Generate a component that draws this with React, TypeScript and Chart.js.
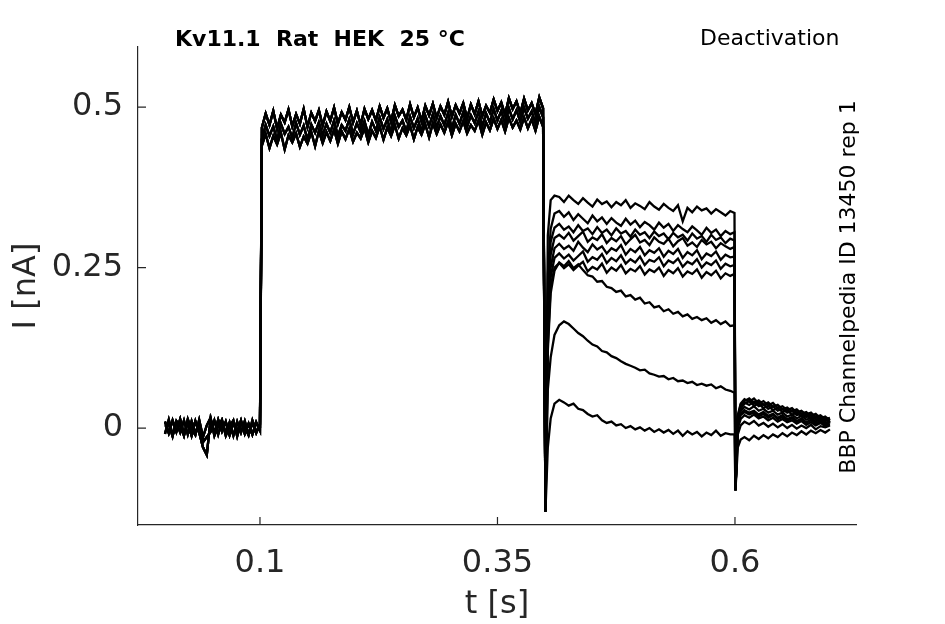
import React, { useEffect, useRef } from 'react';
import { Chart, registerables } from 'chart.js';

Chart.register(...registerables);

// axis ticks
const xTicks = [0.1, 0.35, 0.6];
const yTicks = [0, 0.25, 0.5];

// sample times (s) of each protocol segment
const baseTimes = [0, 0.004, 0.008, 0.012, 0.016, 0.02, 0.024, 0.028, 0.032, 0.036, 0.04, 0.044, 0.048,
   0.052, 0.056, 0.06, 0.064, 0.068, 0.072, 0.076, 0.08, 0.084, 0.088, 0.092, 0.096, 0.1];
const pulseTimes = [
   0.102, 0.106, 0.11, 0.114, 0.118, 0.122, 0.126, 0.13, 0.134, 0.138, 0.142, 0.146, 0.15, 0.154, 0.158,
   0.162, 0.166, 0.17, 0.174, 0.178, 0.182, 0.186, 0.19, 0.194, 0.198, 0.202, 0.206, 0.21, 0.214, 0.218,
   0.222, 0.226, 0.23, 0.234, 0.238, 0.242, 0.246, 0.25, 0.254, 0.258, 0.262, 0.266, 0.27, 0.274, 0.278,
   0.282, 0.286, 0.29, 0.294, 0.298, 0.302, 0.306, 0.31, 0.314, 0.318, 0.322, 0.326, 0.33, 0.334, 0.338,
   0.342, 0.346, 0.35, 0.354, 0.358, 0.362, 0.366, 0.37, 0.374, 0.378, 0.382, 0.386, 0.39, 0.394, 0.398,
];
const tailTimes = [0.4005, 0.403, 0.406, 0.41,
   0.415, 0.42, 0.425, 0.43, 0.435, 0.44, 0.445, 0.45, 0.455, 0.46, 0.465, 0.47, 0.475, 0.48, 0.485,
   0.49, 0.495, 0.5, 0.505, 0.51, 0.515, 0.52, 0.525, 0.53, 0.535, 0.54, 0.545, 0.55, 0.555, 0.56,
   0.565, 0.57, 0.575, 0.58, 0.585, 0.59, 0.595, 0.5995];
const postTimes = [0.6005, 0.603, 0.606,
   0.61, 0.615, 0.62, 0.625, 0.63, 0.635, 0.64, 0.645, 0.65, 0.655, 0.66, 0.665, 0.67, 0.675, 0.68,
   0.685, 0.69, 0.695, 0.7];

// current (nA) before the step
const baseline1 = [0.01, -0.008, 0.012, -0.006, 0.014, -0.01, 0.008, -0.012, 0.011, -0.007, -0.03, -0.042, 0.014,
   -0.008, 0.013, -0.005, 0.01, -0.011, 0.008, -0.006, 0.012, -0.009, 0.007, -0.01, 0.009, -0.004];
const baseline2 = [-0.009, 0.013, -0.011, 0.009, -0.007, 0.012, -0.01, 0.011, -0.008, 0.006, -0.022, -0.014, -0.006,
   0.012, -0.01, 0.011, -0.008, 0.009, -0.012, 0.01, -0.007, 0.011, -0.01, 0.008, -0.008, 0.006];
const baseline3 = [0.002, 0.006, -0.013, 0.011, 0.003, -0.012, 0.014, -0.002, -0.011, 0.013, -0.014, 0.004, 0.016,
   -0.012, 0.003, 0.013, -0.012, 0.002, 0.012, -0.013, 0.008, 0.001, -0.011, 0.012, -0.005, 0.001];

// current (nA) during the activating pulse
const pulse1 = [
   0.468, 0.49, 0.472, 0.494, 0.466, 0.488, 0.476, 0.496, 0.47, 0.489, 0.474, 0.497, 0.469, 0.491, 0.478,
   0.495, 0.471, 0.493, 0.478, 0.499, 0.474, 0.492, 0.48, 0.5, 0.476, 0.494, 0.472, 0.497, 0.481, 0.495,
   0.479, 0.501, 0.483, 0.498, 0.477, 0.503, 0.486, 0.496, 0.48, 0.504, 0.484, 0.499, 0.478, 0.502, 0.487,
   0.505, 0.483, 0.501, 0.488, 0.508, 0.485, 0.503, 0.49, 0.506, 0.482, 0.504, 0.489, 0.509, 0.486, 0.502,
   0.491, 0.512, 0.494, 0.507, 0.488, 0.514, 0.497, 0.509, 0.49, 0.513, 0.495, 0.506, 0.489, 0.515, 0.498,
];
const pulse2 = [
   0.45, 0.472, 0.455, 0.47, 0.448, 0.474, 0.458, 0.469, 0.452, 0.475, 0.457, 0.471, 0.449, 0.473, 0.46,
   0.476, 0.456, 0.474, 0.46, 0.479, 0.455, 0.472, 0.463, 0.481, 0.458, 0.475, 0.461, 0.478, 0.457, 0.477,
   0.463, 0.484, 0.466, 0.481, 0.46, 0.486, 0.469, 0.479, 0.462, 0.485, 0.467, 0.482, 0.461, 0.487, 0.47,
   0.489, 0.468, 0.486, 0.472, 0.491, 0.466, 0.488, 0.474, 0.492, 0.469, 0.487, 0.475, 0.493, 0.47, 0.49,
   0.476, 0.497, 0.479, 0.494, 0.474, 0.498, 0.481, 0.495, 0.477, 0.499, 0.482, 0.493, 0.475, 0.5, 0.484,
];
const pulse3 = [
   0.44, 0.458, 0.436, 0.455, 0.442, 0.46, 0.434, 0.456, 0.445, 0.459, 0.438, 0.454, 0.443, 0.461, 0.439,
   0.463, 0.444, 0.461, 0.447, 0.465, 0.443, 0.462, 0.45, 0.466, 0.446, 0.46, 0.451, 0.467, 0.445, 0.463,
   0.452, 0.47, 0.449, 0.468, 0.455, 0.472, 0.451, 0.467, 0.456, 0.471, 0.45, 0.469, 0.457, 0.473, 0.453,
   0.475, 0.458, 0.473, 0.46, 0.477, 0.456, 0.474, 0.462, 0.478, 0.459, 0.472, 0.463, 0.479, 0.457, 0.476,
   0.464, 0.482, 0.466, 0.48, 0.462, 0.483, 0.468, 0.479, 0.465, 0.484, 0.467, 0.481, 0.463, 0.485, 0.469,
];

// tail current (nA) at each test voltage
const tailA = [-0.13, 0.3, 0.355, 0.362,
   0.36, 0.352, 0.362, 0.355, 0.349, 0.358, 0.351, 0.345, 0.356, 0.349, 0.353, 0.344, 0.352, 0.347, 0.355,
   0.343, 0.35, 0.346, 0.341, 0.352, 0.345, 0.34, 0.349, 0.343, 0.338, 0.347, 0.322, 0.343, 0.336, 0.345,
   0.339, 0.342, 0.334, 0.341, 0.336, 0.331, 0.338, 0.335];
const tailB = [-0.13, 0.24, 0.31, 0.334,
   0.338, 0.329, 0.336, 0.324, 0.333, 0.326, 0.319, 0.331, 0.322, 0.328, 0.318, 0.327, 0.32, 0.315, 0.326,
   0.317, 0.323, 0.313, 0.321, 0.316, 0.309, 0.32, 0.312, 0.318, 0.307, 0.316, 0.31, 0.305, 0.314, 0.308,
   0.301, 0.312, 0.304, 0.309, 0.299, 0.307, 0.302, 0.305];
const tailC = [-0.13, 0.21, 0.29, 0.312,
   0.318, 0.309, 0.314, 0.305, 0.316, 0.307, 0.311, 0.302, 0.313, 0.304, 0.309, 0.3, 0.311, 0.303, 0.307,
   0.298, 0.309, 0.301, 0.305, 0.296, 0.306, 0.299, 0.303, 0.294, 0.304, 0.297, 0.301, 0.292, 0.303, 0.295,
   0.299, 0.29, 0.301, 0.293, 0.297, 0.288, 0.295, 0.292];
const tailD = [-0.13, 0.19, 0.27, 0.296,
   0.301, 0.295, 0.304, 0.292, 0.299, 0.306, 0.29, 0.297, 0.293, 0.302, 0.288, 0.296, 0.291, 0.299, 0.286,
   0.294, 0.301, 0.289, 0.293, 0.285, 0.297, 0.29, 0.287, 0.295, 0.283, 0.291, 0.296, 0.284, 0.289, 0.282,
   0.293, 0.286, 0.29, 0.28, 0.288, 0.283, 0.279, 0.282];
const tailE = [-0.13, 0.17, 0.25, 0.28,
   0.287, 0.279, 0.284, 0.276, 0.29, 0.281, 0.274, 0.286, 0.278, 0.283, 0.272, 0.28, 0.276, 0.285, 0.27,
   0.279, 0.274, 0.282, 0.269, 0.277, 0.273, 0.28, 0.267, 0.276, 0.271, 0.279, 0.265, 0.274, 0.269, 0.277,
   0.263, 0.272, 0.268, 0.275, 0.262, 0.27, 0.266, 0.267];
const tailF = [-0.13, 0.15, 0.235, 0.265,
   0.272, 0.264, 0.27, 0.261, 0.268, 0.275, 0.259, 0.266, 0.262, 0.271, 0.257, 0.265, 0.26, 0.269, 0.256,
   0.263, 0.258, 0.267, 0.254, 0.262, 0.259, 0.266, 0.252, 0.261, 0.257, 0.264, 0.251, 0.259, 0.255, 0.263,
   0.25, 0.258, 0.254, 0.261, 0.248, 0.256, 0.252, 0.254];
const tailG = [-0.13, 0.13, 0.22, 0.25,
   0.257, 0.249, 0.255, 0.246, 0.253, 0.259, 0.244, 0.251, 0.247, 0.256, 0.242, 0.25, 0.245, 0.254, 0.241,
   0.248, 0.244, 0.252, 0.239, 0.247, 0.243, 0.25, 0.237, 0.246, 0.241, 0.249, 0.236, 0.244, 0.24, 0.247,
   0.234, 0.243, 0.238, 0.245, 0.233, 0.241, 0.237, 0.24];
const tailH = [-0.13, 0.12, 0.21, 0.245,
   0.258, 0.252, 0.26, 0.249, 0.255, 0.246, 0.238, 0.236, 0.228, 0.229, 0.22, 0.218, 0.212, 0.214, 0.205,
   0.207, 0.2, 0.203, 0.194, 0.196, 0.188, 0.19, 0.182, 0.185, 0.178, 0.181, 0.174, 0.177, 0.17, 0.173,
   0.168, 0.171, 0.164, 0.168, 0.162, 0.166, 0.159, 0.16];
const tailI = [-0.13, 0.06, 0.11, 0.145,
   0.16, 0.166, 0.162, 0.155, 0.148, 0.143, 0.136, 0.13, 0.127, 0.12, 0.118, 0.112, 0.109, 0.104, 0.1,
   0.097, 0.094, 0.09, 0.091, 0.085, 0.083, 0.08, 0.081, 0.076, 0.078, 0.073, 0.074, 0.07, 0.072, 0.067,
   0.069, 0.066, 0.068, 0.062, 0.065, 0.06, 0.058, 0.055];
const tailJ = [-0.13, -0.03, 0.015, 0.038,
   0.044, 0.04, 0.035, 0.038, 0.03, 0.028, 0.022, 0.018, 0.02, 0.012, 0.008, 0.01, 0.004, 0.006, 0.0,
   0.003, -0.002, 0.001, -0.004, 0.0, -0.006, -0.002, -0.007, -0.003, -0.009, -0.004, -0.012, -0.005, -0.01, -0.006,
   -0.013, -0.007, -0.011, -0.004, -0.012, -0.008, -0.01, -0.01];

// current (nA) after return to holding
const postA = [-0.097, 0.02, 0.038, 0.045, 0.041, 0.046, 0.038, 0.042, 0.035, 0.039, 0.031, 0.034, 0.028, 0.031,
   0.024, 0.027, 0.021, 0.024, 0.017, 0.02, 0.014, 0.016];
const postB = [-0.097, 0.018, 0.036, 0.042, 0.046, 0.039, 0.043, 0.036, 0.04, 0.033, 0.036, 0.029, 0.032, 0.026,
   0.029, 0.022, 0.025, 0.019, 0.022, 0.015, 0.018, 0.012];
const postC = [-0.097, 0.015, 0.033, 0.04, 0.036, 0.041, 0.034, 0.037, 0.03, 0.034, 0.027, 0.03, 0.024, 0.027,
   0.02, 0.023, 0.017, 0.02, 0.013, 0.017, 0.011, 0.014];
const postD = [-0.097, 0.012, 0.03, 0.038, 0.042, 0.035, 0.038, 0.031, 0.035, 0.028, 0.031, 0.025, 0.028, 0.021,
   0.024, 0.018, 0.021, 0.014, 0.018, 0.011, 0.015, 0.009];
const postE = [-0.097, 0.01, 0.026, 0.033, 0.029, 0.034, 0.027, 0.03, 0.024, 0.027, 0.021, 0.024, 0.018, 0.021,
   0.015, 0.019, 0.013, 0.016, 0.01, 0.014, 0.008, 0.011];
const postF = [-0.097, 0.008, 0.022, 0.028, 0.024, 0.027, 0.021, 0.025, 0.019, 0.022, 0.016, 0.02, 0.014, 0.017,
   0.011, 0.015, 0.009, 0.013, 0.007, 0.011, 0.006, 0.01];
const postG = [-0.097, 0.006, 0.02, 0.025, 0.021, 0.024, 0.018, 0.022, 0.016, 0.02, 0.014, 0.017, 0.012, 0.015,
   0.01, 0.013, 0.008, 0.012, 0.007, 0.01, 0.005, 0.009];
const postH = [-0.097, 0.0, 0.014, 0.02, 0.016, 0.021, 0.015, 0.018, 0.012, 0.016, 0.01, 0.014, 0.009, 0.012,
   0.007, 0.011, 0.005, 0.009, 0.004, 0.008, 0.003, 0.006];
const postI = [-0.097, -0.01, 0.004, 0.01, 0.006, 0.011, 0.004, 0.008, 0.002, 0.007, 0.001, 0.006, 0.0, 0.005,
   -0.001, 0.004, 0.0, 0.005, -0.002, 0.003, 0.001, 0.004];
const postJ = [-0.097, -0.03, -0.018, -0.014, -0.019, -0.012, -0.017, -0.011, -0.016, -0.01, -0.014, -0.008, -0.013,
   -0.007, -0.011, -0.005, -0.01, -0.004, -0.008, -0.003, -0.007, -0.002];

const baselines = [baseline1, baseline2, baseline3];
const pulses = [pulse1, pulse2, pulse3];
const tails = [tailA, tailB, tailC, tailD, tailE, tailF, tailG, tailH, tailI, tailJ];
const posts = [postA, postB, postC, postD, postE, postF, postG, postH, postI, postJ];

const axisColor = '#262626';
const font = "'DejaVu Sans', sans-serif";

const toPoints = (times: number[], values: number[]) => times.map((t, i) => ({ x: t, y: values[i] }));

// labels and inward tick marks, MATLAB style
const decorPlugin = {
   id: 'decor',
   afterDraw(chart: any) {
      const { ctx, chartArea, scales } = chart;
      ctx.save();
      ctx.strokeStyle = axisColor;
      ctx.lineWidth = 1.2;
      ctx.beginPath();
      xTicks.forEach((v) => {
         const px = scales.x.getPixelForValue(v);
         ctx.moveTo(px, chartArea.bottom);
         ctx.lineTo(px, chartArea.bottom - 8);
      });
      yTicks.forEach((v) => {
         const py = scales.y.getPixelForValue(v);
         ctx.moveTo(chartArea.left, py);
         ctx.lineTo(chartArea.left + 8, py);
      });
      ctx.stroke();

      ctx.fillStyle = axisColor;
      ctx.font = `32px ${font}`;
      ctx.textAlign = 'center';
      ctx.textBaseline = 'middle';
      ctx.fillText('t [s]', (chartArea.left + chartArea.right) / 2, 605);
      ctx.save();
      ctx.translate(27, (chartArea.top + chartArea.bottom) / 2);
      ctx.rotate(-Math.PI / 2);
      ctx.fillText('I [nA]', 0, 0);
      ctx.restore();

      ctx.fillStyle = '#000';
      ctx.font = `bold 22px ${font}`;
      ctx.textAlign = 'left';
      ctx.fillText('Kv11.1  Rat  HEK  25 °C', 175, 40);
      ctx.font = `22px ${font}`;
      ctx.fillText('Deactivation', 700, 39);
      ctx.save();
      ctx.translate(849, 287);
      ctx.rotate(-Math.PI / 2);
      ctx.textAlign = 'center';
      ctx.font = `22px ${font}`;
      ctx.fillText('BBP Channelpedia ID 13450 rep 1', 0, 0);
      ctx.restore();
      ctx.restore();
   },
};

const TraceChart = () => {
   const canvasRef = useRef<HTMLCanvasElement | null>(null);

   useEffect(() => {
      document.body.style.margin = '0';
      if (!canvasRef.current) return;

      const datasets = tails.map((tail, i) => ({
         label: 'sweep ' + (i + 1),
         data: [
            ...toPoints(baseTimes, baselines[i % 3]),
            ...toPoints(pulseTimes, pulses[i % 3]),
            ...toPoints(tailTimes, tail),
            ...toPoints(postTimes, posts[i]),
         ],
         borderColor: '#000',
         borderWidth: 2.3,
         pointRadius: 0,
         tension: 0,
         fill: false,
      }));

      const chart = new Chart(canvasRef.current, {
         type: 'line',
         data: { datasets },
         options: {
            responsive: false,
            animation: false,
            devicePixelRatio: 1,
            layout: { padding: { left: 0, top: 47, right: 89, bottom: 0 } },
            plugins: { legend: { display: false }, tooltip: { enabled: false } },
            scales: {
               x: {
                  type: 'linear',
                  min: -0.0284,
                  max: 0.7274,
                  grid: { display: false, drawTicks: false },
                  border: { display: true, color: axisColor, width: 1.2 },
                  afterBuildTicks: (scale: any) => {
                     scale.ticks = xTicks.map((v) => ({ value: v }));
                  },
                  afterFit: (scale: any) => {
                     scale.height = 99;
                  },
                  ticks: {
                     color: axisColor,
                     font: { family: font, size: 32 },
                     padding: 19,
                     maxRotation: 0,
                     callback: (v: any) => String(v),
                  },
               },
               y: {
                  type: 'linear',
                  min: -0.151,
                  max: 0.5935,
                  grid: { display: false, drawTicks: false },
                  border: { display: true, color: axisColor, width: 1.2 },
                  afterBuildTicks: (scale: any) => {
                     scale.ticks = yTicks.map((v) => ({ value: v }));
                  },
                  afterFit: (scale: any) => {
                     scale.width = 138;
                  },
                  ticks: {
                     color: axisColor,
                     font: { family: font, size: 32 },
                     padding: 15,
                     callback: (v: any) => String(v),
                  },
               },
            },
         },
         plugins: [decorPlugin],
      });

      return () => {
         chart.destroy();
      };
   }, []);

   return <canvas ref={canvasRef} width='945' height='624' />;
};

export default function App() {
   return <TraceChart />;
}
